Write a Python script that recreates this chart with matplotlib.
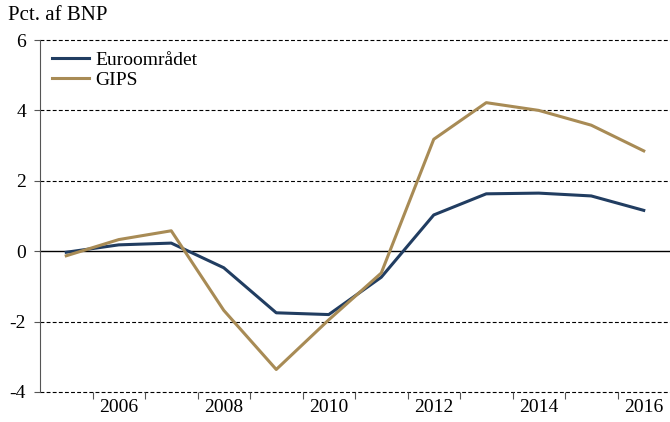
import matplotlib
matplotlib.use("Agg")
import matplotlib.pyplot as plt
from matplotlib.ticker import FixedLocator, NullFormatter

years = [2005, 2006, 2007, 2008, 2009, 2010, 2011, 2012, 2013, 2014, 2015, 2016]
euro = [-0.03, 0.18, 0.23, -0.47, -1.75, -1.80, -0.74, 1.03, 1.63, 1.65, 1.57, 1.16]
gips = [-0.13, 0.33, 0.58, -1.68, -3.36, -1.95, -0.62, 3.18, 4.22, 4.00, 3.58, 2.85]
tick_labels = ["2006", "2008", "2010", "2012", "2014", "2016"]
label_years = [2006, 2008, 2010, 2012, 2014, 2016]
yticks = [-4, -2, 0, 2, 4, 6]

plt.rcParams['font.family'] = ['Liberation Serif', 'DejaVu Serif']

fig = plt.figure(figsize=(6.7, 4.22), dpi=100)
ax = fig.add_axes([40/670, 1-392/422, 630/670, 352/422])

for y in yticks:
    if y == 0:
        ax.axhline(y, color='black', lw=1.0, zorder=1, clip_on=False)
    else:
        ax.axhline(y, color='black', lw=0.8, ls=(0, (3.5, 2)), zorder=1, clip_on=False)

ax.plot(years, euro, color='#213D61', lw=2.2, label='Euroområdet', zorder=3)
ax.plot(years, gips, color='#A88B55', lw=2.2, label='GIPS', zorder=3)

ax.set_xlim(2004.5, 2016.5)
ax.set_ylim(-4, 6)
ax.set_yticks(yticks)
ax.set_yticklabels([str(v) for v in yticks], fontsize=14)

ax.xaxis.set_major_locator(FixedLocator([y + 0.5 for y in years[:-1]]))
ax.xaxis.set_major_formatter(NullFormatter())
ax.xaxis.set_minor_locator(FixedLocator(label_years))
ax.set_xticklabels(tick_labels, minor=True, fontsize=14)
ax.tick_params(axis='x', which='minor', length=0, pad=5)
ax.tick_params(axis='x', which='major', length=5, direction='out', color='#555555')
ax.tick_params(axis='y', length=4, direction='out', color='#555555', pad=6)

for s in ['top', 'right', 'bottom']:
    ax.spines[s].set_visible(False)
ax.spines['left'].set_color('#555555')

leg = ax.legend(loc='upper left', bbox_to_anchor=(0.0, 1.0), frameon=False, fontsize=14,
                handlelength=1.9, handletextpad=0.35, labelspacing=0.1, borderaxespad=0.2)

fig.text(8/670, 1-16/422, 'Pct. af BNP', fontsize=15, va='center', ha='left')

fig.savefig('out.png', dpi=100)
